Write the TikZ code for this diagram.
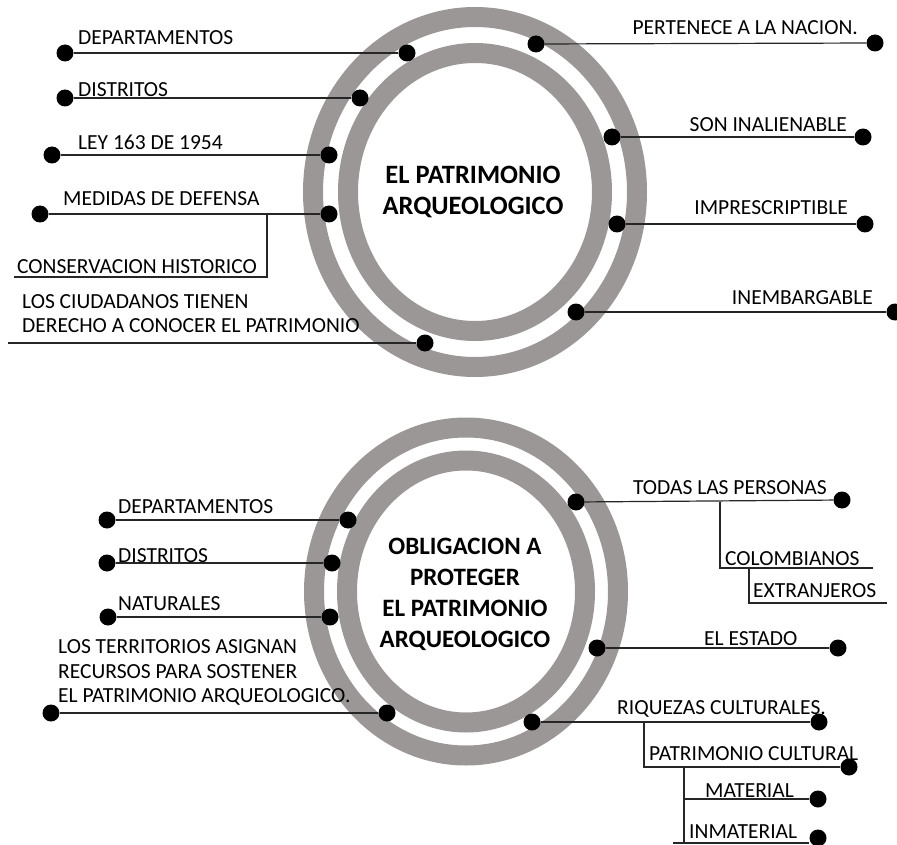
\documentclass[tikz,border=0pt]{standalone}
\usepackage{fontspec}
\setmainfont{Carlito}
\definecolor{ringgray}{RGB}{155,151,150}

\begin{document}
\begin{tikzpicture}[x=1pt, y=-1pt,
		dot/.style={circle, fill=black, inner sep=0pt, minimum size=17pt},
		ring/.style={draw=ringgray, line width=20pt},
		link/.style={draw=black!85, line width=1.2pt},
		txt/.style={inner sep=0pt, font=\fontsize{21.5}{24.8}\selectfont},
		title/.style={align=center, inner sep=0pt, font=\bfseries\fontsize{25}{31}\selectfont}
		]
	\useasboundingbox (0,0) rectangle (897,845);

	% upper circle
	\draw [ring] (475,192) ellipse [x radius=162, y radius=175];
	\draw [ring] (475,192) ellipse [x radius=127, y radius=139];
	\node [title, font=\bfseries\fontsize{26.5}{31}\selectfont] (patrimonio) at (473,192) {EL PATRIMONIO\\ARQUEOLOGICO};

	\node [dot] (ta1) at (65,53) {};
	\node [dot] (tb1) at (407,53) {};
	\node [dot] (ta2) at (65,98) {};
	\node [dot] (tb2) at (360,98) {};
	\node [dot] (ta3) at (52,155) {};
	\node [dot] (tb3) at (329,155) {};
	\node [dot] (ta4) at (40,214) {};
	\node [dot] (tb4) at (329,214) {};
	\coordinate (ta5) at (8,343);
	\node [dot] (tb5) at (425,343) {};
	\coordinate (tm) at (267,214);
	\coordinate (tcons) at (14,277);

	\node [dot] (tr1) at (536,44) {};
	\node [dot] (te1) at (875,43) {};
	\node [dot] (tr2) at (612,137) {};
	\node [dot] (te2) at (863,137) {};
	\node [dot] (tr3) at (617,224) {};
	\node [dot] (te3) at (865,224) {};
	\node [dot] (tr4) at (576,312) {};
	\node [dot] (te4) at (895,312) {};

	\draw [link] (ta1) -- (tb1);
	\draw [link] (ta2) -- (tb2);
	\draw [link] (ta3) -- (tb3);
	\draw [link] (ta4) -- (tb4);
	\draw [link] (tm) |- (tcons);
	\draw [link] (ta5) -- (tb5);
	\draw [link] (tr1) -- (te1);
	\draw [link] (tr2) -- (te2);
	\draw [link] (tr3) -- (te3);
	\draw [link] (tr4) -- (te4);

	\node [txt, anchor=base west] (tdep) at (78,45) {DEPARTAMENTOS};
	\node [txt, anchor=base west] (tdis) at (78,97) {DISTRITOS};
	\node [txt, anchor=base west] (tley) at (78,150) {LEY 163 DE 1954};
	\node [txt, anchor=base west] (tmed) at (63,206) {MEDIDAS DE DEFENSA};
	\node [txt, anchor=base west] (tcon) at (17,273) {CONSERVACION HISTORICO};
	\node [txt, anchor=south west, align=left, text depth=0pt] (tciu) at (22,333)
		{LOS CIUDADANOS TIENEN\\DERECHO A CONOCER EL PATRIMONIO};
	\node [txt, anchor=base east] (tper) at (858,35) {PERTENECE A LA NACION.};
	\node [txt, anchor=base east] (tina) at (847,132) {SON INALIENABLE};
	\node [txt, anchor=base east] (timp) at (848,215) {IMPRESCRIPTIBLE};
	\node [txt, anchor=base east] (tine) at (873,304) {INEMBARGABLE};

	% lower circle
	\draw [ring] (466,591.5) ellipse [x radius=152, y radius=164];
	\draw [ring] (466,591.5) ellipse [x radius=119, y radius=131];
	\node [title] (obligacion) at (465,594) {OBLIGACION A\\PROTEGER\\EL PATRIMONIO\\ARQUEOLOGICO};

	\node [dot] (ba1) at (107,520) {};
	\node [dot] (bb1) at (348,520) {};
	\node [dot] (ba2) at (107,563) {};
	\node [dot] (bb2) at (332,563) {};
	\node [dot] (ba3) at (108,617) {};
	\node [dot] (bb3) at (330,617) {};
	\node [dot] (ba4) at (51,713) {};
	\node [dot] (bb4) at (387,713) {};

	\node [dot] (br1) at (576,502) {};
	\node [dot] (be1) at (842,500) {};
	\node [dot] (br2) at (597,648) {};
	\node [dot] (be2) at (838,648) {};
	\node [dot] (br3) at (532,722) {};
	\node [dot] (be3) at (819,722) {};
	\node [dot] (be5) at (849,767) {};
	\node [dot] (be6) at (818,799) {};
	\node [dot] (be7) at (818,838) {};
	\coordinate (bp1) at (720,502);
	\coordinate (bcol) at (873,568);
	\coordinate (bp2) at (749,568);
	\coordinate (bext) at (887,603);
	\coordinate (bq1) at (644,722);
	\coordinate (bq2) at (684,767);
	\coordinate (bq3) at (684,843);
	\coordinate (bq4) at (684,799);
	\coordinate (bq5) at (673,843);

	\draw [link] (ba1) -- (bb1);
	\draw [link] (ba2) -- (bb2);
	\draw [link] (ba3) -- (bb3);
	\draw [link] (ba4) -- (bb4);
	\draw [link] (br1) -- (be1);
	\draw [link] (bp1) |- (bcol);
	\draw [link] (bp2) |- (bext);
	\draw [link] (br2) -- (be2);
	\draw [link] (br3) -- (be3);
	\draw [link] (bq1) |- (be5);
	\draw [link] (bq2) -- (bq3);
	\draw [link] (bq4) -- (be6);
	\draw [link] (bq5) -- (bq5 -| be7.west);

	\node [txt, anchor=base west] (bdep) at (118,513) {DEPARTAMENTOS};
	\node [txt, anchor=base west] (bdis) at (118,562) {DISTRITOS};
	\node [txt, anchor=base west] (bnat) at (118,610) {NATURALES};
	\node [txt, anchor=south west, align=left, text depth=0pt] (bter) at (58,703)
		{LOS TERRITORIOS ASIGNAN\\RECURSOS PARA SOSTENER\\EL PATRIMONIO ARQUEOLOGICO.};
	\node [txt, anchor=base east] (btod) at (827,494) {TODAS LAS PERSONAS};
	\node [txt, anchor=base west] (bcolt) at (725,565) {COLOMBIANOS};
	\node [txt, anchor=base west] (bextt) at (753,597) {EXTRANJEROS};
	\node [txt, anchor=base west] (best) at (704,645) {EL ESTADO};
	\node [txt, anchor=base west] (briq) at (617,714) {RIQUEZAS CULTURALES.};
	\node [txt, anchor=base west] (bpat) at (649,760) {PATRIMONIO CULTURAL};
	\node [txt, anchor=base west] (bmat) at (705,797) {MATERIAL};
	\node [txt, anchor=base west] (binm) at (689,838) {INMATERIAL};
\end{tikzpicture}
\end{document}
